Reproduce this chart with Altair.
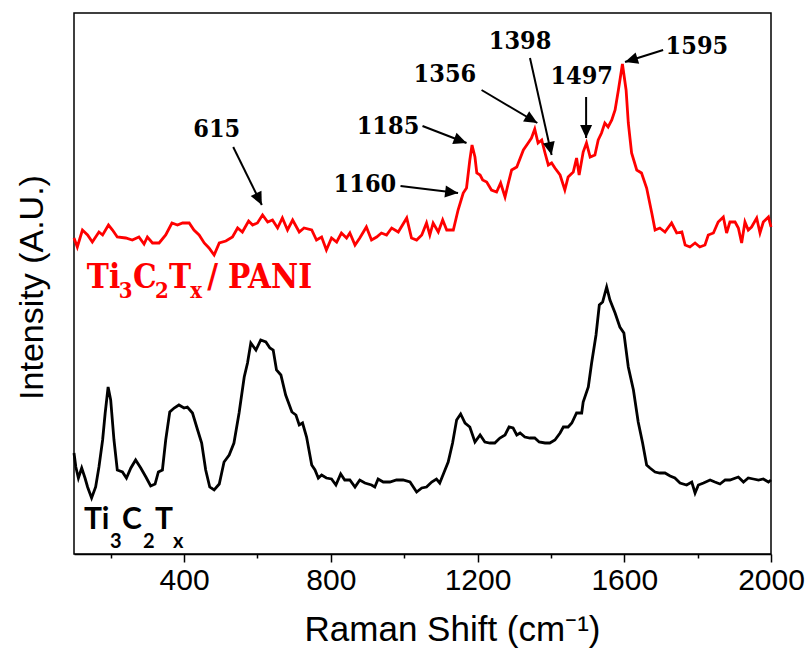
import math
import altair as alt
import pandas as pd

# Raman spectrum of the Ti3C2Tx / PANI composite (shift in cm-1, intensity in a.u.)
pani_shift = [100, 109, 123, 137, 150, 168, 178, 194, 205, 218,
              241, 259, 277, 291, 300, 314, 332, 350, 367, 382,
              396, 414, 427, 441, 455, 468, 482, 496, 514, 532,
              546, 559, 576, 587, 600, 614, 628, 641, 655, 668,
              682, 696, 714, 727, 748, 761, 775, 788, 802, 816,
              829, 843, 852, 866, 879, 897, 911, 925, 938, 952,
              966, 984, 1007, 1020, 1034, 1048, 1061, 1070, 1079, 1093,
              1105, 1116, 1134, 1147, 1161, 1170, 1179, 1185, 1193, 1198,
              1207, 1214, 1225, 1238, 1252, 1263, 1275, 1284, 1293, 1307,
              1325, 1338, 1347, 1356, 1365, 1375, 1384, 1393, 1402, 1411,
              1425, 1438, 1447, 1461, 1470, 1477, 1488, 1497, 1507, 1520,
              1529, 1538, 1547, 1556, 1566, 1575, 1584, 1595, 1605, 1611,
              1620, 1634, 1647, 1661, 1675, 1684, 1697, 1711, 1729, 1743,
              1757, 1766, 1779, 1793, 1806, 1820, 1829, 1843, 1856, 1870,
              1879, 1888, 1902, 1911, 1920, 1929, 1938, 1947, 1961, 1970,
              1979, 1993, 2000]
pani_intensity = [316, 307, 324, 319, 312, 322, 319, 329, 324, 317,
                  316, 314, 317, 310, 317, 311, 311, 319, 331, 329,
                  331, 331, 324, 319, 311, 306, 299, 311, 313, 317,
                  326, 322, 333, 329, 331, 339, 332, 334, 326, 336,
                  324, 334, 322, 326, 324, 314, 317, 304, 316, 312,
                  321, 316, 321, 309, 316, 327, 314, 317, 321, 319,
                  326, 322, 336, 316, 314, 319, 331, 319, 331, 322,
                  334, 324, 324, 344, 361, 366, 394, 409, 397, 381,
                  379, 374, 372, 364, 362, 371, 357, 371, 384, 387,
                  404, 411, 416, 425, 411, 414, 401, 389, 391, 386,
                  379, 364, 377, 382, 396, 379, 402, 411, 397, 399,
                  414, 421, 431, 427, 434, 444, 464, 490, 464, 431,
                  401, 384, 381, 366, 341, 324, 326, 322, 331, 321,
                  322, 309, 307, 311, 307, 309, 319, 321, 332, 337,
                  321, 332, 332, 326, 311, 332, 324, 327, 336, 321,
                  332, 337, 327]

# Raman spectrum of pristine Ti3C2Tx
mx_shift = [100, 105, 112, 121, 130, 137, 148, 159, 168, 178,
            185, 193, 200, 209, 218, 232, 243, 255, 268, 282,
            296, 309, 321, 330, 341, 350, 361, 373, 386, 400,
            409, 423, 437, 448, 459, 470, 482, 496, 509, 523,
            536, 550, 564, 573, 582, 596, 609, 623, 634, 643,
            652, 664, 677, 694, 705, 714, 723, 734, 748, 757,
            766, 775, 788, 802, 814, 827, 838, 852, 866, 879,
            893, 911, 920, 929, 943, 961, 979, 997, 1016, 1034,
            1048, 1061, 1075, 1088, 1097, 1108, 1120, 1132, 1143, 1154,
            1166, 1179, 1193, 1207, 1220, 1234, 1247, 1261, 1275, 1286,
            1297, 1307, 1316, 1329, 1343, 1356, 1368, 1384, 1397, 1411,
            1425, 1434, 1447, 1457, 1470, 1484, 1488, 1502, 1511, 1523,
            1532, 1541, 1552, 1561, 1575, 1588, 1599, 1611, 1625, 1638,
            1650, 1661, 1670, 1684, 1697, 1711, 1725, 1738, 1752, 1770,
            1784, 1793, 1802, 1816, 1834, 1847, 1861, 1875, 1888, 1911,
            1925, 1938, 1952, 1966, 1979, 1993, 2000]
mx_intensity = [101, 87, 76, 86, 76, 67, 56, 67, 87, 114,
                141, 167, 154, 114, 84, 82, 76, 86, 94, 86,
                77, 68, 70, 82, 84, 114, 142, 146, 149, 146,
                147, 141, 124, 111, 84, 67, 64, 70, 92, 99,
                111, 141, 177, 191, 211, 204, 214, 212, 206, 204,
                184, 179, 159, 142, 139, 129, 131, 117, 89, 84,
                76, 79, 76, 75, 69, 80, 74, 74, 67, 74,
                71, 69, 67, 75, 72, 72, 74, 74, 72, 62,
                66, 67, 72, 75, 71, 81, 92, 111, 134, 140,
                131, 127, 112, 119, 112, 111, 111, 116, 119, 127,
                126, 119, 121, 117, 116, 116, 112, 111, 111, 114,
                121, 127, 127, 131, 141, 141, 152, 167, 191, 219,
                249, 252, 267, 254, 241, 227, 221, 187, 164, 132,
                111, 89, 86, 82, 81, 81, 78, 76, 71, 69,
                72, 61, 69, 71, 74, 72, 70, 74, 74, 77,
                72, 76, 75, 74, 75, 72, 74]

# Peak annotations: label text, label centre, arrow tail and arrow tip
peak_text = ["615", "1160", "1185", "1356", "1398", "1497", "1595"]
peak_text_x = [489, 893, 956, 1111, 1316, 1484, 1798]
peak_text_y = [425, 370, 428, 480, 513, 478, 508]
arrow_tail_x = [534, 990, 1050, 1211, 1343, 1496, 1706]
arrow_tail_y = [407, 368, 428, 464, 496, 457, 504]
arrow_tip_x = [612, 1147, 1170, 1363, 1402, 1496, 1602]
arrow_tip_y = [349, 361, 411, 431, 399, 416, 492]

# Sample labels, split into normal and subscript pieces
pani_main_text = ["Ti", "C", "T", "/", "PANI"]
pani_main_x = [135, 261, 359, 463, 520]
pani_main_y = [266, 266, 266, 266, 266]
pani_sub_text = ["3", "2", "x"]
pani_sub_x = [222, 321, 417]
pani_sub_y = [256, 256, 256]

mx_main_text = ["Ti", "C", "T"]
mx_main_x = [127, 231, 321]
mx_main_y = [25, 25, 25]
mx_sub_text = ["3", "2", "x"]
mx_sub_x = [198, 288, 370]
mx_sub_y = [6, 6, 6]

X_DOMAIN = [100, 2000]
Y_DOMAIN = [0, 541]
WIDTH, HEIGHT = 697, 541

SANS = "Liberation Sans"
SERIF = "DejaVu Serif Condensed, DejaVu Serif"

x_enc = alt.X(
    "shift:Q",
    scale=alt.Scale(domain=X_DOMAIN, nice=False, zero=False),
    axis=alt.Axis(
        values=list(range(200, 2001, 200)),
        format="d",
        labelExpr="datum.value % 400 === 0 ? datum.label : ''",
        labelFlush=False,
        tickSize={"condition": {"test": "datum.value % 400 === 0", "value": 8}, "value": 4},
        tickWidth=1.5,
        domainWidth=1.5,
        grid=False,
        labelFont=SANS,
        labelFontSize=30,
        labelPadding=3,
        labelColor="black",
        title="Raman Shift (cm⁻¹)",
        titleFont=SANS,
        titleFontSize=35,
        titleFontWeight="normal",
        titleColor="black",
        titleX=378,
        titleY=86,
        titleAlign="center",
        titleBaseline="alphabetic",
    ),
)
y_enc = alt.Y(
    "intensity:Q",
    scale=alt.Scale(domain=Y_DOMAIN, nice=False, zero=False),
    axis=alt.Axis(
        labels=False,
        ticks=False,
        domain=False,
        grid=False,
        title="Intensity (A.U.)",
        titleFont=SANS,
        titleFontSize=34,
        titleFontWeight="normal",
        titleColor="black",
        titleX=-42,
        titleY=274,
        titleAlign="center",
        titleBaseline="middle",
    ),
)

pani_df = pd.DataFrame({"shift": pani_shift, "intensity": pani_intensity})
mx_df = pd.DataFrame({"shift": mx_shift, "intensity": mx_intensity})

pani_line = alt.Chart(pani_df).mark_line(color="#ff0000", strokeWidth=2.8).encode(x=x_enc, y=y_enc)
mx_line = alt.Chart(mx_df).mark_line(color="black", strokeWidth=2.8).encode(x=x_enc, y=y_enc)

# Arrow shafts and heads; head angle follows the on-screen direction of the shaft
px_per_x = WIDTH / (X_DOMAIN[1] - X_DOMAIN[0])
px_per_y = HEIGHT / (Y_DOMAIN[1] - Y_DOMAIN[0])
angles = []
for x0, y0, x1, y1 in zip(arrow_tail_x, arrow_tail_y, arrow_tip_x, arrow_tip_y):
    dx = (x1 - x0) * px_per_x
    dy = -(y1 - y0) * px_per_y
    angles.append(math.degrees(math.atan2(dx, -dy)) % 360)

arrow_df = pd.DataFrame({
    "shift": arrow_tail_x, "intensity": arrow_tail_y,
    "shift2": arrow_tip_x, "intensity2": arrow_tip_y,
})
head_df = pd.DataFrame({"shift": arrow_tip_x, "intensity": arrow_tip_y, "angle": angles})
peak_df = pd.DataFrame({"shift": peak_text_x, "intensity": peak_text_y, "label": peak_text})

shafts = alt.Chart(arrow_df).mark_rule(color="black", strokeWidth=2).encode(
    x=x_enc, y=y_enc, x2="shift2:Q", y2="intensity2:Q"
)
heads = alt.Chart(head_df).mark_point(
    shape="M0,0L-0.6,1.3L0.6,1.3Z", filled=True, color="black", opacity=1, size=400, strokeWidth=0
).encode(x=x_enc, y=y_enc, angle=alt.Angle("angle:Q", scale=None))
peak_labels = alt.Chart(peak_df).mark_text(
    font=SERIF, fontWeight="bold", fontSize=25, color="black", align="center", baseline="middle"
).encode(x=x_enc, y=y_enc, text="label:N")


def label_layer(texts, xs, ys, font, size, color):
    df = pd.DataFrame({"shift": xs, "intensity": ys, "label": texts})
    return alt.Chart(df).mark_text(
        font=font, fontWeight="bold", fontSize=size, color=color, align="left", baseline="alphabetic"
    ).encode(x=x_enc, y=y_enc, text="label:N")


pani_label = [
    label_layer(pani_main_text, pani_main_x, pani_main_y, SERIF, 33, "#ff0000"),
    label_layer(pani_sub_text, pani_sub_x, pani_sub_y, SERIF, 22, "#ff0000"),
]
mx_label = [
    label_layer(mx_main_text, mx_main_x, mx_main_y, "Lato", 30, "black"),
    label_layer(mx_sub_text, mx_sub_x, mx_sub_y, "Lato", 20, "black"),
]

chart = alt.layer(
    pani_line, mx_line, shafts, heads, peak_labels, *pani_label, *mx_label
).properties(
    width=WIDTH,
    height=HEIGHT,
    padding={"left": 74, "top": 13, "right": 37, "bottom": 95},
    autosize=alt.AutoSizeParams(type="none"),
    background="white",
).configure_view(
    stroke="black", strokeWidth=1.5
).configure_axis(
    domainColor="black", tickColor="black"
)

chart.save("out.html", embed_options={"renderer": "svg", "actions": False})
